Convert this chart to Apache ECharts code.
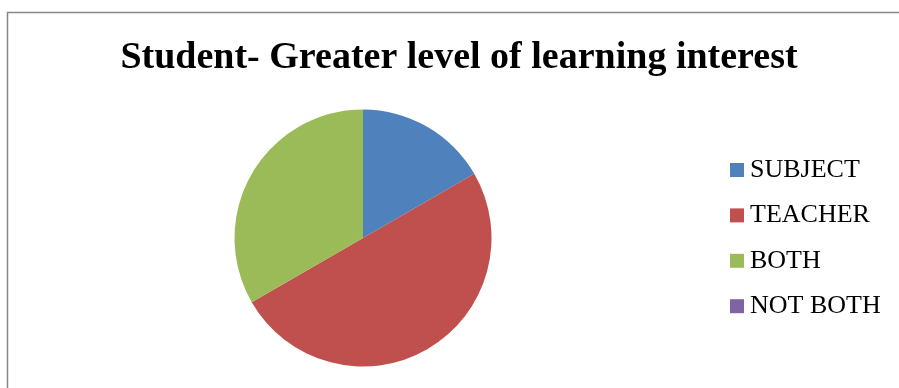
<!DOCTYPE html>
<html>
<head>
<meta charset="utf-8">
<script src="https://cdn.jsdelivr.net/npm/echarts@6/dist/echarts.min.js"></script>
<style>
  html, body { margin: 0; padding: 0; background: #fff; }
  #chart { width: 899px; height: 388px; }
</style>
</head>
<body>
<div id="chart"></div>
<script>
// Responses: which one raises the student's level of learning interest
const categories = ['SUBJECT', 'TEACHER', 'BOTH', 'NOT BOTH'];
const counts = [10, 30, 20, 0];
const colors = ['#4F81BD', '#C0504D', '#9BBB59', '#8064A2'];

const chart = echarts.init(document.getElementById('chart'), null, { renderer: 'canvas' });

chart.setOption({
  animation: false,
  color: colors,
  title: {
    text: 'Student- Greater level of learning interest',
    left: 459,
    textAlign: 'center',
    top: 39,
    padding: 0,
    textStyle: {
      fontFamily: '"Liberation Serif", "Times New Roman", serif',
      fontWeight: 'bold',
      fontSize: 38,
      color: '#000'
    }
  },
  legend: {
    orient: 'vertical',
    left: 730,
    top: 156,
    padding: 0,
    itemWidth: 14,
    itemHeight: 14,
    itemGap: 17.4,
    icon: 'rect',
    data: categories,
    textStyle: {
      fontFamily: '"Liberation Serif", "Times New Roman", serif',
      fontSize: 26,
      lineHeight: 26,
      color: '#000',
      padding: [2, 0, 0, 1]
    }
  },
  graphic: [{
    type: 'rect',
    shape: { x: 7.5, y: 12.5, width: 1200, height: 600 },
    style: { fill: 'none', stroke: '#868686', lineWidth: 1.5 },
    silent: true
  }],
  series: [{
    type: 'pie',
    center: [363, 238],
    radius: 128.5,
    startAngle: 90,
    clockwise: true,
    label: { show: false },
    labelLine: { show: false },
    itemStyle: { borderWidth: 0 },
    emphasis: { disabled: true },
    data: categories.map((name, i) => ({ name, value: counts[i] }))
  }]
});
</script>
</body>
</html>
